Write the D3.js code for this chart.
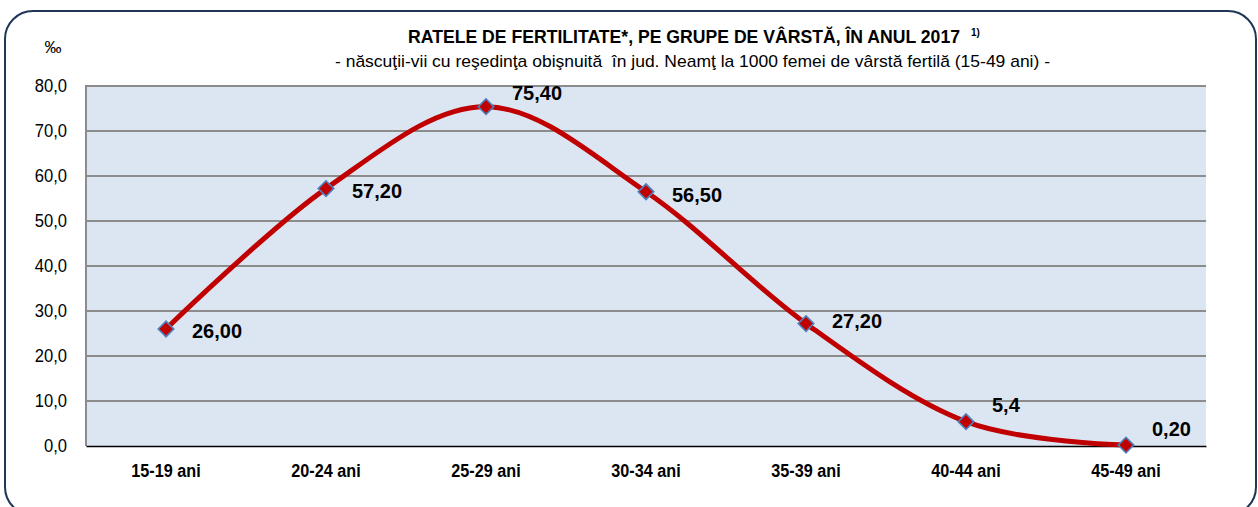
<!DOCTYPE html>
<html><head><meta charset="utf-8">
<script src="https://cdn.jsdelivr.net/npm/d3@7"></script>
<style>body{margin:0;background:#fff}svg{display:block}</style>
</head><body>
<svg id="c" width="1258" height="507"></svg>
<script>
const categories = ["15-19 ani","20-24 ani","25-29 ani","30-34 ani","35-39 ani","40-44 ani","45-49 ani"];
const values = [26.00, 57.20, 75.40, 56.50, 27.20, 5.4, 0.20];
const valueLabels = ["26,00","57,20","75,40","56,50","27,20","5,4","0,20"];
const yTicks = [0,10,20,30,40,50,60,70,80];
const labelDy = [2, 2, -14, 3, -3, -17, -16];

const m = {l:86, r:1206, t:86, b:446};
const svg = d3.select("#c");
const font = "'Liberation Sans',Arial,sans-serif";

function narrow(sel, k){
  sel.each(function(){
    const n = this.getComputedTextLength();
    d3.select(this).attr("textLength", n*k).attr("lengthAdjust","spacingAndGlyphs");
  });
}

svg.append("rect").attr("x",5).attr("y",11).attr("width",1251).attr("height",504)
  .attr("rx",28).attr("fill","#fff").attr("stroke","#1f3657").attr("stroke-width",2);

const x = d3.scaleBand().domain(categories).range([m.l,m.r]);
const y = d3.scaleLinear().domain([0,80]).range([m.b,m.t]);

svg.append("rect").attr("x",m.l).attr("y",m.t).attr("width",m.r-m.l).attr("height",m.b-m.t).attr("fill","#dce6f2");

svg.append("g").selectAll("line").data(yTicks.filter(d=>d>0)).join("line")
  .attr("x1",m.l).attr("x2",m.r).attr("y1",d=>y(d)).attr("y2",d=>y(d))
  .attr("stroke","#8c8c8c").attr("stroke-width",2);
svg.append("line").attr("x1",m.l).attr("x2",m.l).attr("y1",m.t-1).attr("y2",m.b)
  .attr("stroke","#8c8c8c").attr("stroke-width",2);

const yAxis = d3.axisLeft(y).tickValues(yTicks).tickSize(0).tickPadding(19)
  .tickFormat(d=>d3.format(".1f")(d).replace(".",","));
const ga = svg.append("g").attr("transform",`translate(${m.l},0)`).call(yAxis);
ga.select(".domain").remove();
ga.selectAll("text").attr("font-family",font).attr("font-size",18).attr("fill","#000");
narrow(ga.selectAll("text"), 0.92);

const xAxis = d3.axisBottom(x).tickSize(0).tickPadding(18);
const gx = svg.append("g").attr("transform",`translate(0,${m.b})`).call(xAxis);
gx.select(".domain").attr("stroke","#000").attr("stroke-width",1.5);
gx.selectAll("text").attr("font-family",font).attr("font-size",18).attr("font-weight","bold").attr("fill","#000");
narrow(gx.selectAll("text"), 0.9);

const cx = (d,i)=>x(categories[i])+x.bandwidth()/2;
const line = d3.line().x(cx).y(d=>y(d)).curve(d3.curveCardinal.tension(0));
svg.append("path").datum(values).attr("d",line).attr("fill","none")
  .attr("stroke","#c00000").attr("stroke-width",5);

svg.append("g").selectAll("path").data(values).join("path")
  .attr("transform",(d,i)=>`translate(${cx(d,i)},${y(d)}) rotate(45)`)
  .attr("d", d3.symbol().type(d3.symbolSquare).size(120)())
  .attr("fill","#c00000").attr("stroke","#4f81bd").attr("stroke-width",1.6);

svg.append("g").selectAll("text").data(values).join("text")
  .attr("x",(d,i)=>cx(d,i)+26).attr("y",(d,i)=>y(d)+labelDy[i])
  .attr("dy","0.35em").attr("font-family",font)
  .attr("font-size",20).attr("font-weight","bold").attr("fill","#000")
  .text((d,i)=>valueLabels[i]);

svg.append("text").attr("x",53).attr("y",53).attr("text-anchor","middle")
  .attr("font-family",font).attr("font-size",17).text("‰");

svg.append("text").attr("x",408).attr("y",43)
  .attr("font-family",font).attr("font-size",18).attr("font-weight","bold")
  .attr("textLength",552).attr("lengthAdjust","spacingAndGlyphs")
  .text("RATELE DE FERTILITATE*, PE GRUPE DE VÂRSTĂ, ÎN ANUL 2017");
svg.append("text").attr("x",971).attr("y",36)
  .attr("font-family",font).attr("font-size",10).attr("font-weight","bold").text("1)");

svg.append("text").attr("x",335).attr("y",67)
  .attr("font-family",font).attr("font-size",17)
  .style("white-space","pre")
  .attr("textLength",715).attr("lengthAdjust","spacingAndGlyphs")
  .text("- născuţii-vii cu reşedinţa obişnuită  în jud. Neamţ la 1000 femei de vârstă fertilă (15-49 ani) -");
</script>
</body></html>
